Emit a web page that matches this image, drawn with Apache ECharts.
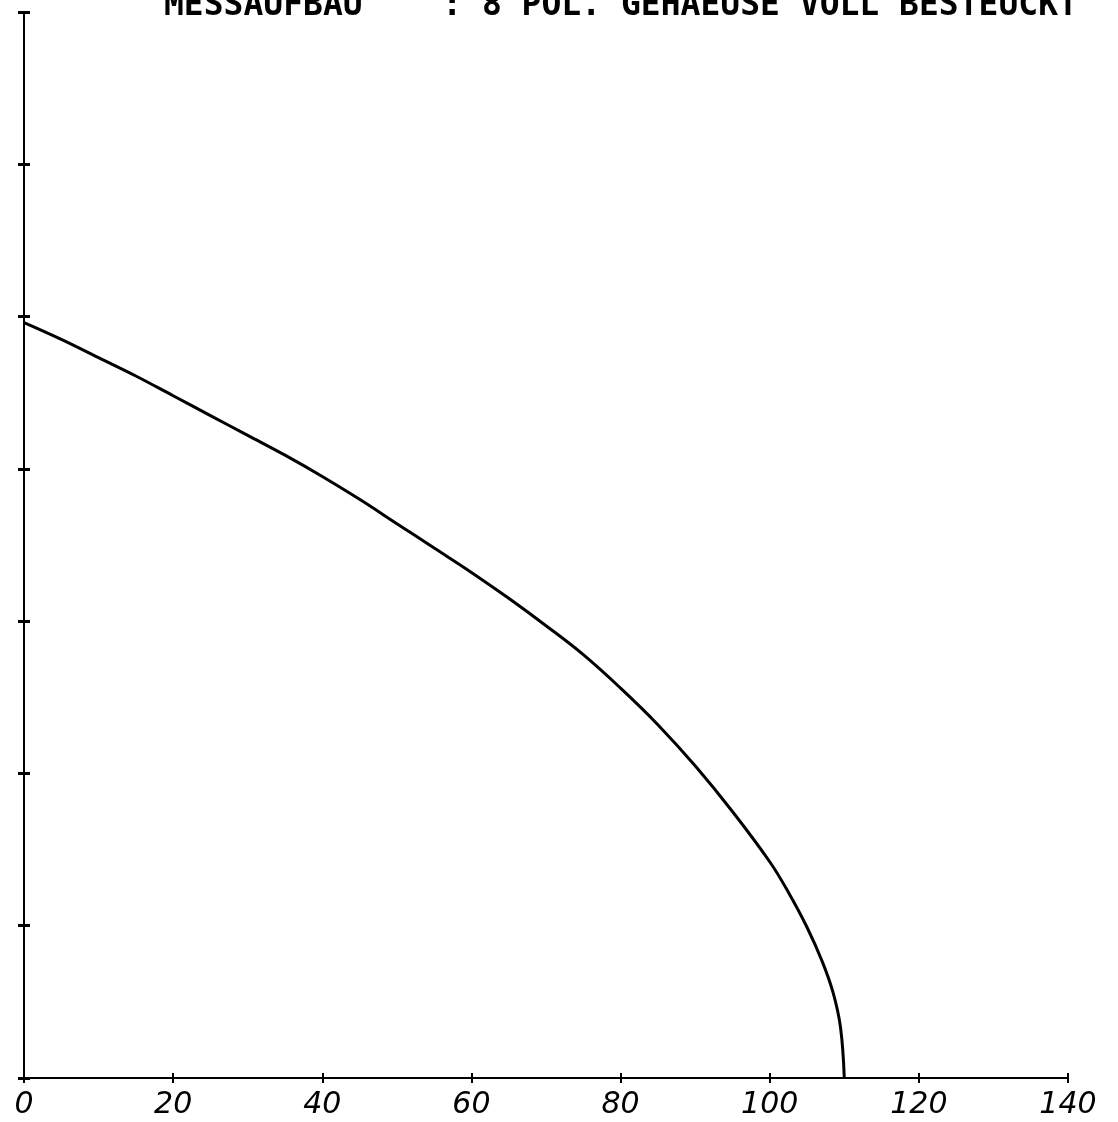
<!DOCTYPE html>
<html>
<head>
<meta charset="utf-8">
<script src="https://cdn.jsdelivr.net/npm/echarts@6/dist/echarts.min.js"></script>
<style>
  html, body { margin: 0; padding: 0; background: #ffffff; }
  #chart { width: 1118px; height: 1122px; }
</style>
</head>
<body>
<div id="chart"></div>
<script>
var titleText = 'MESSAUFBAU    : 8 POL. GEHAEUSE VOLL BESTEUCKT';
var xTickLabels = ['0', '20', '40', '60', '80', '100', '120', '140'];
var curveX = [0, 5, 10, 15, 20, 25, 30, 35, 40, 45, 50, 55, 60, 65, 70, 75, 80, 85, 90, 95, 100, 102.5, 105, 107, 108.5, 109.5, 110];
var curveY = [4.96, 4.85, 4.73, 4.61, 4.48, 4.35, 4.22, 4.09, 3.95, 3.80, 3.64, 3.48, 3.32, 3.15, 2.97, 2.78, 2.56, 2.32, 2.05, 1.75, 1.42, 1.22, 0.99, 0.77, 0.56, 0.33, 0];

var curveData = curveX.map(function (x, i) { return [x, curveY[i]]; });

var axisFont = { fontFamily: 'DejaVu Sans', fontSize: 30, fontStyle: 'italic', color: '#000' };

var chart = echarts.init(document.getElementById('chart'), null, { renderer: 'canvas' });
chart.setOption({
  backgroundColor: '#ffffff',
  animation: false,
  title: {
    text: titleText,
    left: 164,
    top: -10,
    padding: 0,
    textStyle: { fontFamily: 'DejaVu Sans Mono', fontSize: 33, fontWeight: 'bold', color: '#000', whiteSpace: 'pre' }
  },
  grid: { left: 24, right: 50, top: 12, bottom: 44, containLabel: false },
  xAxis: [{
    type: 'value', min: 0, max: 140, interval: 20, position: 'bottom',
    axisLine: { show: true, onZero: false, lineStyle: { color: '#000', width: 2 } },
    axisTick: { show: true, inside: false, length: 5, lineStyle: { color: '#000', width: 2 } },
    axisLabel: Object.assign({ margin: 12, formatter: function (v) { return xTickLabels[Math.round(v / 20)]; } }, axisFont),
    splitLine: { show: false }
  }, {
    type: 'value', min: 0, max: 140, interval: 20, position: 'bottom',
    axisLine: { show: false },
    axisTick: { show: true, inside: true, length: 5, lineStyle: { color: '#000', width: 2 } },
    axisLabel: { show: false },
    splitLine: { show: false }
  }],
  yAxis: [{
    type: 'value', min: 0, max: 7, interval: 1, position: 'left',
    axisLine: { show: true, onZero: false, lineStyle: { color: '#000', width: 2 } },
    axisTick: { show: true, inside: false, length: 6, lineStyle: { color: '#000', width: 3 } },
    axisLabel: { show: false },
    splitLine: { show: false }
  }, {
    type: 'value', min: 0, max: 7, interval: 1, position: 'left',
    axisLine: { show: false },
    axisTick: { show: true, inside: true, length: 6, lineStyle: { color: '#000', width: 3 } },
    axisLabel: { show: false },
    splitLine: { show: false }
  }],
  series: [{
    type: 'line',
    xAxisIndex: 0, yAxisIndex: 0,
    data: curveData,
    smooth: 0.4,
    showSymbol: false,
    lineStyle: { color: '#000', width: 3 }
  }]
});
</script>
</body>
</html>
